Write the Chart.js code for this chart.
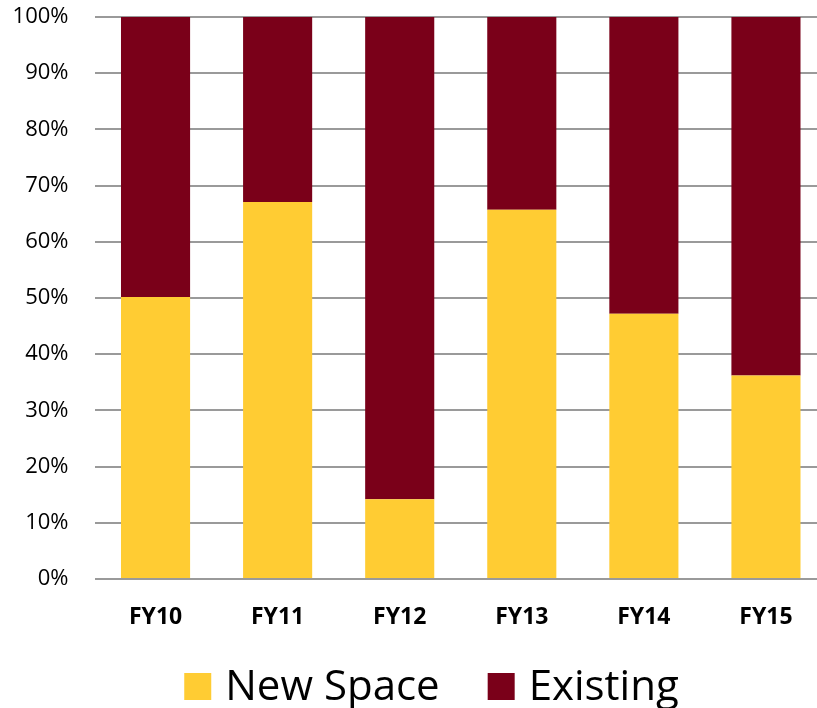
<!DOCTYPE html>
<html>
<head>
<meta charset="utf-8">
<script src="https://cdn.jsdelivr.net/npm/chart.js@4.4.1/dist/chart.umd.min.js"></script>
<style>
  html, body { margin: 0; padding: 0; background: #ffffff; overflow: hidden; }
  #wrap { width: 827px; height: 708px; }
</style>
</head>
<body>
<div id="wrap"><canvas id="chart" width="827" height="708"></canvas></div>
<script>
// Share of space by fiscal year
const categories = ['FY10', 'FY11', 'FY12', 'FY13', 'FY14', 'FY15'];
const newSpace = [50.2, 67.1, 14.2, 65.7, 47.2, 36.2];
const existing = [49.8, 32.9, 85.8, 34.3, 52.8, 63.8];
const seriesNames = ['New Space', 'Existing'];
const seriesColors = ['#FFCC33', '#7A0019'];
const yTicks = [0, 10, 20, 30, 40, 50, 60, 70, 80, 90, 100];

const FONT = '"Open Sans", "Noto Sans", "DejaVu Sans", sans-serif';

// Legend drawn below the axis labels: colour square followed by the series name
const bottomLegend = {
  id: 'bottomLegend',
  afterDraw(chart) {
    const ctx = chart.ctx;
    const size = 27, gap = 14, itemGap = 48;
    const baseline = 700;
    ctx.save();
    ctx.font = '42px ' + FONT;
    ctx.textBaseline = 'alphabetic';
    const items = chart.data.datasets.map(ds => ({
      label: ds.label, color: ds.backgroundColor,
      w: ctx.measureText(ds.label).width
    }));
    let total = 0;
    items.forEach((it, i) => { total += size + gap + it.w + (i < items.length - 1 ? itemGap : 0); });
    const center = chart.chartArea.left + 337;
    let x = center - total / 2;
    items.forEach(it => {
      ctx.fillStyle = it.color;
      ctx.fillRect(x, baseline - size, size, size);
      x += size + gap;
      ctx.fillStyle = '#000000';
      ctx.textAlign = 'left';
      ctx.fillText(it.label, x, baseline);
      x += it.w + itemGap;
    });
    ctx.restore();
  }
};

new Chart(document.getElementById('chart'), {
  type: 'bar',
  data: {
    labels: categories,
    datasets: [
      { label: seriesNames[0], data: newSpace, backgroundColor: seriesColors[0] },
      { label: seriesNames[1], data: existing, backgroundColor: seriesColors[1] }
    ]
  },
  options: {
    responsive: false,
    animation: false,
    devicePixelRatio: 1,
    layout: { padding: { top: 17, right: 0, bottom: 79, left: 0 } },
    datasets: { bar: { categoryPercentage: 1, barPercentage: 0.566, borderWidth: 0 } },
    plugins: { legend: { display: false }, tooltip: { enabled: false } },
    scales: {
      x: {
        stacked: true,
        grid: { display: false, drawTicks: false },
        border: { display: false },
        ticks: { color: '#000000', padding: 25, font: { family: FONT, size: 23, weight: 'bold' } },
        afterFit(scale) { scale.height = 50; }
      },
      y: {
        stacked: true,
        min: 0,
        max: 100,
        afterBuildTicks(scale) { scale.ticks = yTicks.map(v => ({ value: v })); },
        grid: { color: '#9a9a9a', lineWidth: 2, drawTicks: false },
        border: { display: false },
        ticks: {
          color: '#000000', padding: 26,
          font: { family: FONT, size: 22 },
          callback: v => v + '%'
        },
        afterFit(scale) {
          scale.width = 94.5;
          scale.paddingTop = 0;
          scale.paddingBottom = 0;
        }
      }
    }
  },
  plugins: [bottomLegend]
});
</script>
</body>
</html>
